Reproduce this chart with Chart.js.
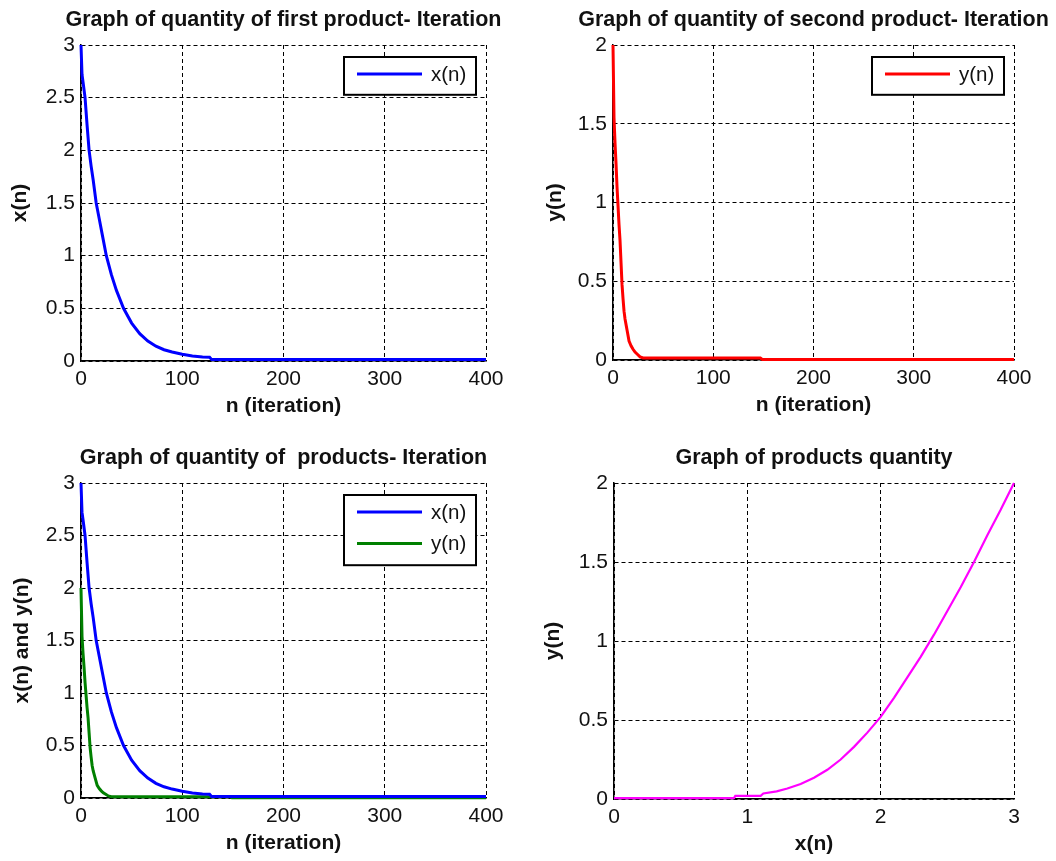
<!DOCTYPE html>
<html><head><meta charset="utf-8">
<script src="https://cdn.jsdelivr.net/npm/chart.js@4.4.0/dist/chart.umd.min.js"></script>
<style>
html,body{margin:0;padding:0;background:#fff;}
#wrap{position:relative;width:1056px;height:861px;background:#fff;}
canvas{position:absolute;}
</style></head><body>
<div id="wrap">
<canvas id="c1" width="528" height="430" style="left:0;top:0;width:528px;height:430px"></canvas>
<canvas id="c2" width="528" height="430" style="left:528px;top:0;width:528px;height:430px"></canvas>
<canvas id="c3" width="528" height="431" style="left:0;top:430px;width:528px;height:431px"></canvas>
<canvas id="c4" width="528" height="431" style="left:528px;top:430px;width:528px;height:431px"></canvas>
</div>
<script>
// ---- data ----
const iterNX = [0,1,2,4,6,8,10,12,15,18,21,25,30,35,42,50,58,66,74,82,90,100,110,120,127,129,200,300,400];
const xValues = [3,2.72,2.65,2.5,2.24,2.0,1.85,1.72,1.5,1.35,1.2,1.0,0.82,0.67,0.5,0.36,0.26,0.19,0.14,0.107,0.085,0.065,0.048,0.038,0.035,0.015,0.015,0.015,0.015];
const iterNY = [0,1,2,3,4,5,6,7,8,9,10,11,12,14,16,18,20,22,24,27,30,147,149,400];
const yValues = [2,1.54,1.38,1.25,1.1,0.98,0.86,0.76,0.62,0.48,0.39,0.31,0.26,0.19,0.12,0.09,0.068,0.05,0.038,0.02,0.013,0.012,0.003,0.003];
const phaseX = [0,0.9,0.91,1.1,1.12,1.22,1.3,1.4,1.5,1.6,1.7,1.8,1.9,2.0,2.1,2.2,2.3,2.4,2.5,2.6,2.7,2.8,2.9,3.0];
const phaseY = [0.006,0.006,0.02,0.02,0.035,0.048,0.066,0.095,0.135,0.185,0.25,0.33,0.42,0.52,0.64,0.77,0.9,1.04,1.19,1.34,1.5,1.67,1.83,2.0];

const iterTicks = [0,100,200,300,400];
const xAxisTicks3 = [0,0.5,1,1.5,2,2.5,3];
const yAxisTicks2 = [0,0.5,1,1.5,2];
const phaseTicks = [0,1,2,3];

const titles = ['Graph of quantity of first product- Iteration','Graph of quantity of second product- Iteration','Graph of quantity of  products- Iteration','Graph of products quantity'];

function pts(xs, ys){ return xs.map((x,i)=>({x:x, y:ys[i]})); }

const SANS = '"Liberation Sans", Arial, Helvetica, sans-serif';

const annotPlugin = {
  id: 'annot',
  afterDraw(chart, args, o) {
    const ctx = chart.ctx, a = chart.chartArea;
    ctx.save();
    ctx.fillStyle = '#111';
    ctx.textAlign = 'center';
    ctx.textBaseline = 'middle';
    ctx.font = 'bold 21.5px ' + SANS;
    ctx.fillText(o.title, (a.left + a.right) / 2, a.top - 25);
    ctx.font = 'bold 21px ' + SANS;
    ctx.fillText(o.xLabel, (a.left + a.right) / 2, a.bottom + 45);
    ctx.translate(o.yLabelX, (a.top + a.bottom) / 2);
    ctx.rotate(-Math.PI / 2);
    ctx.fillText(o.yLabel, 0, 0);
    ctx.restore();
  },
  afterDatasetsDraw(chart, args, o) {
    if (!o.legend) return;
    const ctx = chart.ctx, a = chart.chartArea;
    const items = o.legend;
    const w = 132, h = 5.4 + 32.4 * items.length;
    const left = a.right - 10 - w, top = a.top + 12;
    ctx.save();
    ctx.fillStyle = '#fff';
    ctx.fillRect(left, top, w, h);
    ctx.strokeStyle = '#000';
    ctx.lineWidth = 2;
    ctx.strokeRect(left, top, w, h);
    ctx.font = '20.5px ' + SANS;
    ctx.textAlign = 'left';
    ctx.textBaseline = 'middle';
    items.forEach((it, i) => {
      const y = top + 17 + 31.6 * i;
      ctx.strokeStyle = it.color;
      ctx.lineWidth = 3;
      ctx.beginPath();
      ctx.moveTo(left + 13, y);
      ctx.lineTo(left + 78, y);
      ctx.stroke();
      ctx.fillStyle = '#111';
      ctx.fillText(it.label, left + 87, y + 1);
    });
    ctx.restore();
  }
};

function axisOpts(min, max, ticksArr, fitFn, isX) {
  return {
    type: 'linear', min: min, max: max,
    afterBuildTicks(s) { s.ticks = ticksArr.map(v => ({value: v})); },
    afterFit: fitFn,
    ticks: {
      autoSkip: false, maxRotation: 0, minRotation: 0,
      padding: isX ? 6 : 6,
      color: '#111',
      font: {family: SANS, size: 21},
      callback: v => String(v)
    },
    grid: {color: '#000', lineWidth: 1, drawTicks: false},
    border: {display: true, color: '#000', width: 1.5, dash: [4, 3]}
  };
}

function makeChart(id, area, xr, yr, datasets, ann) {
  const canvas = document.getElementById(id);
  const W = canvas.width, H = canvas.height;
  return new Chart(canvas, {
    type: 'line',
    data: {datasets: datasets},
    options: {
      responsive: false, animation: false, devicePixelRatio: 1,
      layout: {padding: {left: 0, top: area.top, right: W - area.right, bottom: 0}},
      elements: {point: {radius: 0}, line: {tension: 0}},
      plugins: {legend: {display: false}, title: {display: false}, tooltip: {enabled: false}, annot: ann},
      scales: {
        x: axisOpts(xr[0], xr[1], xr[2], s => { s.height = H - area.bottom; }, true),
        y: axisOpts(yr[0], yr[1], yr[2], s => { s.width = area.left; }, false)
      }
    },
    plugins: [annotPlugin]
  });
}

function ds(data, color, width) {
  return {data: data, borderColor: color, backgroundColor: color, borderWidth: width, pointRadius: 0, fill: false, clip: 5};
}

makeChart('c1', {left: 81, top: 45, right: 486, bottom: 361}, [0, 400, iterTicks], [0, 3, xAxisTicks3],
  [ds(pts(iterNX, xValues), '#0000ff', 3)],
  {title: titles[0], xLabel: 'n (iteration)', yLabel: 'x(n)', yLabelX: 20, legend: [{label: 'x(n)', color: '#0000ff'}]});

makeChart('c2', {left: 85, top: 45, right: 486, bottom: 360}, [0, 400, iterTicks], [0, 2, yAxisTicks2],
  [ds(pts(iterNY, yValues), '#ff0000', 3)],
  {title: titles[1], xLabel: 'n (iteration)', yLabel: 'y(n)', yLabelX: 27, legend: [{label: 'y(n)', color: '#ff0000'}]});

makeChart('c3', {left: 81, top: 53, right: 486, bottom: 368}, [0, 400, iterTicks], [0, 3, xAxisTicks3],
  [ds(pts(iterNX, xValues), '#0000ff', 3), ds(pts(iterNY, yValues), '#008000', 3)],
  {title: titles[2], xLabel: 'n (iteration)', yLabel: 'x(n) and y(n)', yLabelX: 22, legend: [{label: 'x(n)', color: '#0000ff'}, {label: 'y(n)', color: '#008000'}]});

makeChart('c4', {left: 86, top: 53, right: 486, bottom: 369}, [0, 3, phaseTicks], [0, 2, yAxisTicks2],
  [ds(pts(phaseX, phaseY), '#ff00ff', 2.2)],
  {title: titles[3], xLabel: 'x(n)', yLabel: 'y(n)', yLabelX: 25, legend: null});
</script>
</body></html>
